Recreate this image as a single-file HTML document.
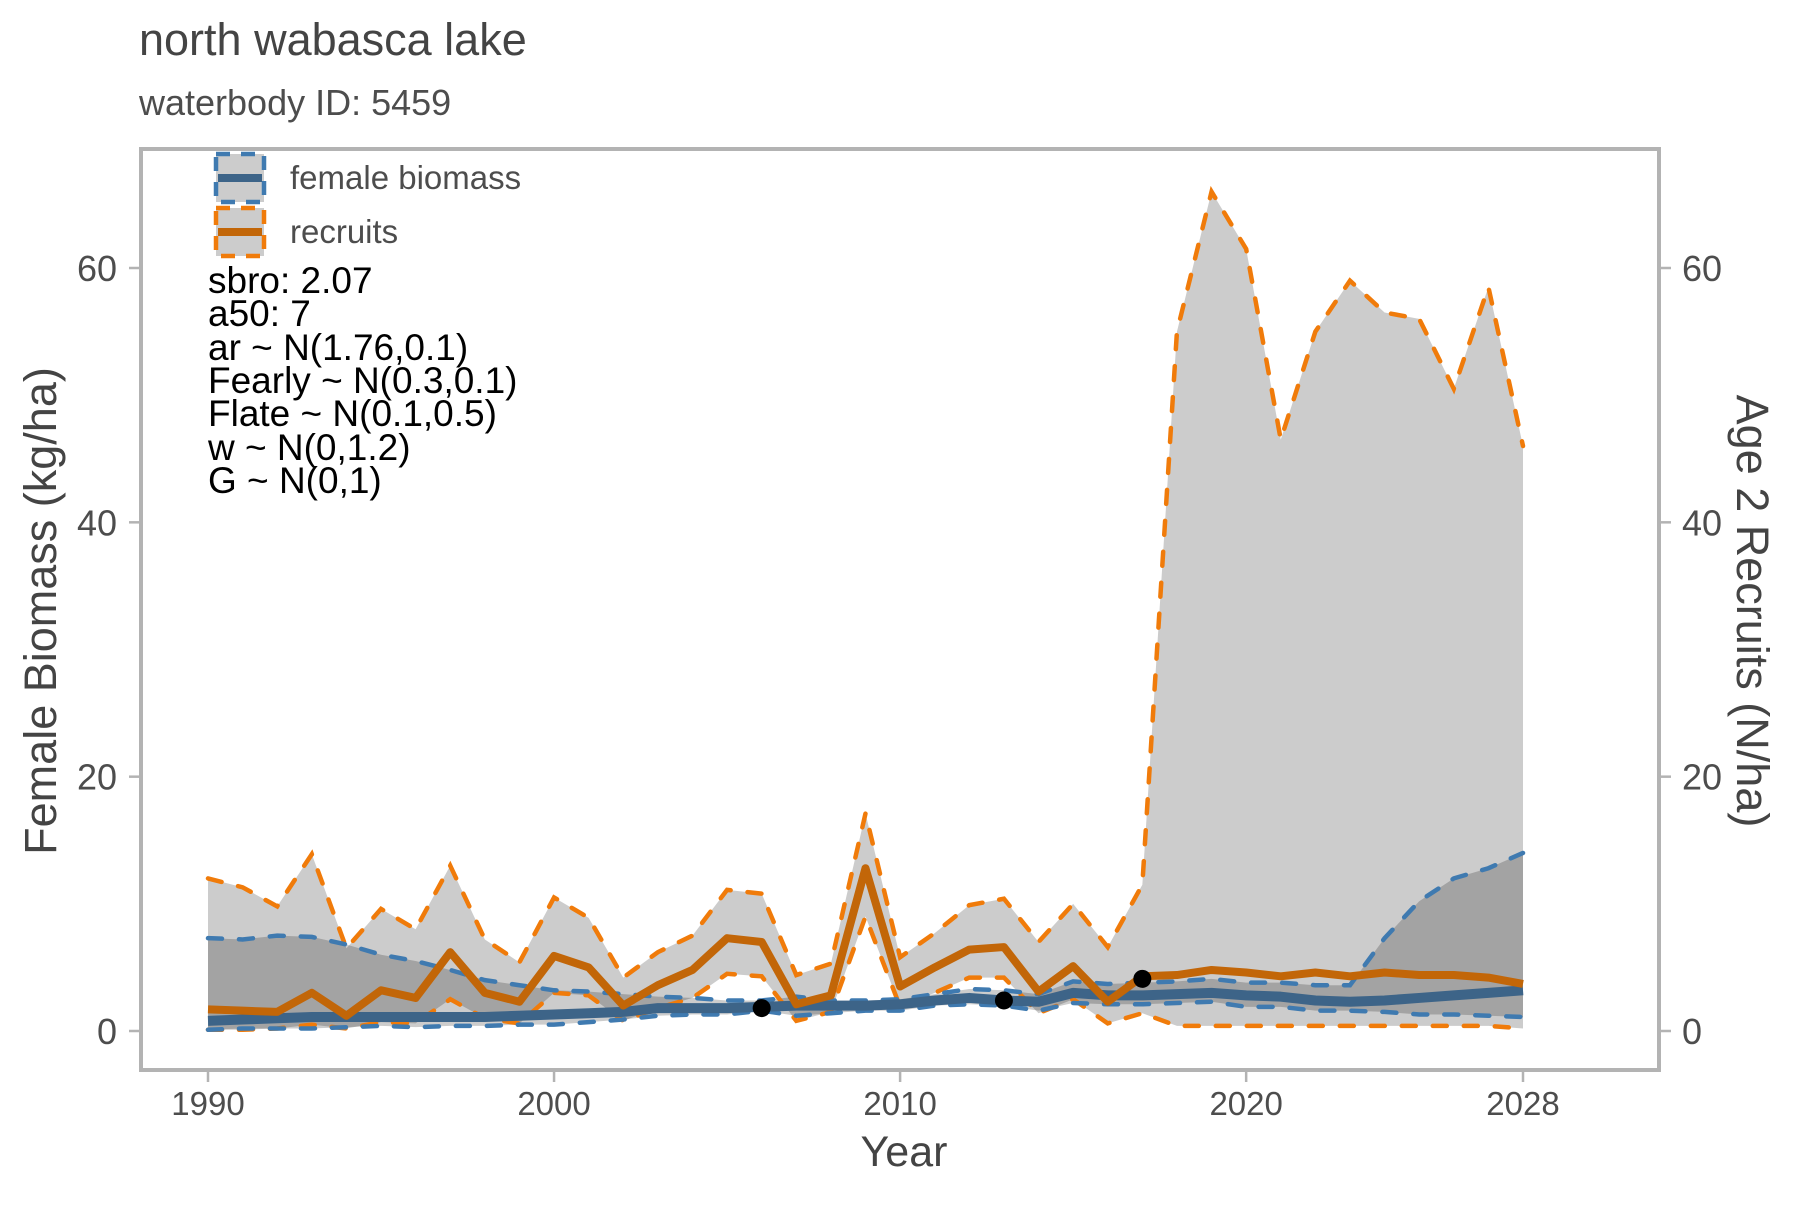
<!DOCTYPE html>
<html><head><meta charset="utf-8"><style>
body{margin:0;background:#fff}
text{font-family:"Liberation Sans",Arial,sans-serif}
</style></head><body>
<svg id="chart" width="1800" height="1200" viewBox="0 0 1800 1200" xmlns="http://www.w3.org/2000/svg">
<text x="139" y="55" font-size="45" fill="#444">north wabasca lake</text>
<text x="139" y="115" font-size="36" fill="#4d4d4d">waterbody ID: 5459</text>
<g id="plot"></g>
<rect x="141" y="149" width="1518" height="921" fill="none" stroke="#b3b3b3" stroke-width="4"/>
<g id="axes"></g>
<text x="904" y="1166" font-size="43" fill="#444" text-anchor="middle">Year</text>
<text transform="translate(56,611) rotate(-90)" font-size="45" fill="#444" text-anchor="middle">Female Biomass (kg/ha)</text>
<text transform="translate(1737,611) rotate(90)" font-size="45" fill="#444" text-anchor="middle">Age 2 Recruits (N/ha)</text>
<g>
<g>
<rect x="216" y="154" width="48" height="48" fill="#cccccc" stroke="#3f7ab0" stroke-width="4.5" stroke-dasharray="14,11"/>
<line x1="218" y1="178" x2="262" y2="178" stroke="#3d6488" stroke-width="8"/>
<text x="290" y="189" font-size="33" fill="#4d4d4d">female biomass</text>
</g>
<g>
<rect x="216" y="208" width="48" height="48" fill="#cccccc" stroke="#f07b0a" stroke-width="4.5" stroke-dasharray="14,11"/>
<line x1="218" y1="232" x2="262" y2="232" stroke="#c26608" stroke-width="8"/>
<text x="290" y="243" font-size="33" fill="#4d4d4d">recruits</text>
</g>
</g>
<g font-size="37" fill="#000">
<text x="208" y="293">sbro: 2.07</text>
<text x="208" y="326">a50: 7</text>
<text x="208" y="360">ar ~ N(1.76,0.1)</text>
<text x="208" y="393">Fearly ~ N(0.3,0.1)</text>
<text x="208" y="426">Flate ~ N(0.1,0.5)</text>
<text x="208" y="460">w ~ N(0,1.2)</text>
<text x="208" y="493">G ~ N(0,1)</text>
</g>
</svg>
<script>
const years=[];for(let y=1990;y<=2028;y++)years.push(y);
const recMed=[1.7,1.6,1.5,3.0,1.2,3.2,2.6,6.2,3.0,2.3,5.9,5.0,2.0,3.6,4.8,7.3,7.0,2.1,2.8,12.8,3.5,5.0,6.4,6.6,3.1,5.1,2.3,4.3,4.4,4.8,4.6,4.3,4.6,4.3,4.6,4.4,4.4,4.2,3.7];
const recHi=[12,11.3,9.8,13.9,6.5,9.6,8,13.0,7.2,5.4,10.5,8.9,4.2,6.2,7.5,11.1,10.8,4.4,5.3,17.1,5.8,7.7,9.9,10.4,7.0,10.0,6.6,11.5,55,66,61.5,46.5,55,59,56.5,56,50.5,58.5,46];
const recLo=[0.1,0.1,0.2,0.5,0.2,0.7,0.6,2.5,1.0,0.6,3.0,2.8,0.8,1.8,2.6,4.5,4.3,0.8,1.5,9.0,1.9,3.0,4.2,4.2,1.4,2.5,0.6,1.4,0.4,0.4,0.4,0.4,0.4,0.4,0.4,0.4,0.4,0.4,0.2];
const bioMed=[0.8,0.9,1.0,1.1,1.1,1.1,1.1,1.1,1.1,1.2,1.3,1.4,1.5,1.8,1.8,1.8,1.9,2.0,2.0,2.0,2.1,2.4,2.6,2.4,2.3,3.0,2.8,2.8,2.9,3.0,2.8,2.7,2.4,2.3,2.4,2.6,2.8,3.0,3.2];
const bioHi=[7.3,7.2,7.5,7.4,6.8,6.0,5.5,4.8,4.0,3.6,3.2,3.1,2.9,2.7,2.6,2.4,2.4,2.7,2.4,2.4,2.5,2.9,3.3,3.2,2.9,3.9,3.7,3.8,3.9,4.1,3.8,3.8,3.6,3.6,7.3,10.2,12,12.8,14.0];
const bioLo=[0.1,0.2,0.2,0.2,0.3,0.4,0.3,0.4,0.4,0.5,0.5,0.7,0.9,1.2,1.3,1.3,1.6,1.2,1.4,1.6,1.6,2.0,2.1,2.0,1.6,2.2,2.1,2.1,2.2,2.3,1.9,1.9,1.6,1.6,1.5,1.3,1.3,1.2,1.1];
const obsYears=[2006,2013,2017];
const obsVals=[1.8,2.4,4.1];
const xTicks=[1990,2000,2010,2020,2028];
const yTicks=[0,20,40,60];
const NS='http://www.w3.org/2000/svg';
const X=y=>208+(y-1990)*(1523-208)/38;
const Y=v=>1031-v*(1031-268)/60;
const plot=document.getElementById('plot'),axes=document.getElementById('axes');
function mk(t,a,p){const e=document.createElementNS(NS,t);for(const k in a)e.setAttribute(k,a[k]);(p||plot).appendChild(e);return e;}
function band(hi,lo){let d='M'+years.map((y,i)=>X(y)+','+Y(hi[i])).join('L');for(let i=years.length-1;i>=0;i--)d+='L'+X(years[i])+','+Y(lo[i]);return d+'Z';}
function line(v){return 'M'+years.map((y,i)=>X(y)+','+Y(v[i])).join('L');}
let e;
e=mk('path',{d:band(recHi,recLo),fill:'rgba(0,0,0,0.2)'});


e=mk('path',{d:band(bioHi,bioLo),fill:'rgba(0,0,0,0.2)'});


const dl=[[recHi,'#f07b0a','recruits-upper'],[recLo,'#f07b0a','recruits-lower'],[bioHi,'#3f7ab0','biomass-upper'],[bioLo,'#3f7ab0','biomass-lower']];
dl.forEach(s=>{e=mk('path',{d:line(s[0]),fill:'none',stroke:s[1],'stroke-width':4.5,'stroke-dasharray':'14,17','stroke-linecap':'round'});

});
e=mk('path',{d:line(bioMed),fill:'none',stroke:'#3d6488','stroke-width':10,'stroke-linejoin':'round'});


e=mk('path',{d:line(recMed),fill:'none',stroke:'#c26608','stroke-width':8,'stroke-linejoin':'round'});


obsYears.forEach((y,i)=>{e=mk('circle',{cx:X(y),cy:Y(obsVals[i]),r:9,fill:'#000'});

});
xTicks.forEach(t=>{mk('line',{x1:X(t),x2:X(t),y1:1072,y2:1082,stroke:'#b3b3b3','stroke-width':2.5},axes);
e=mk('text',{x:X(t),y:1115,'font-size':33,fill:'#4d4d4d','text-anchor':'middle'},axes);e.textContent=t;

});
yTicks.forEach(t=>{mk('line',{x1:129,x2:139,y1:Y(t),y2:Y(t),stroke:'#b3b3b3','stroke-width':2.5},axes);
mk('line',{x1:1661,x2:1671,y1:Y(t),y2:Y(t),stroke:'#b3b3b3','stroke-width':2.5},axes);
e=mk('text',{x:117,y:Y(t)+13,'font-size':36,fill:'#4d4d4d','text-anchor':'end'},axes);e.textContent=t;


e=mk('text',{x:1682,y:Y(t)+13,'font-size':36,fill:'#4d4d4d'},axes);e.textContent=t;

});
</script>
</body></html>
